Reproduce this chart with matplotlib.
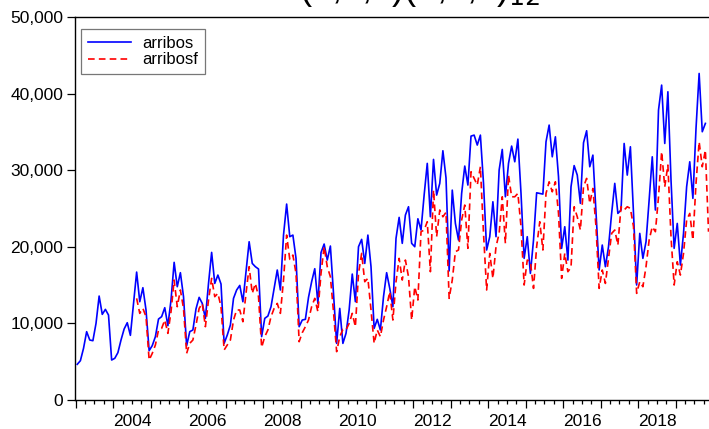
import numpy as np
import pandas as pd
import matplotlib
matplotlib.use("Agg")
import matplotlib.pyplot as plt
from matplotlib.ticker import FuncFormatter, MultipleLocator

plt.rcParams["font.family"] = ["Liberation Sans", "DejaVu Sans"]

# monthly series, 2003M01 onwards
arribos = [
    4660, 5130, 6740, 8920, 7830, 7740, 10000, 13570, 11180, 11830, 11090, 5220,
    5440, 6180, 7830, 9270, 10090, 8440, 12610, 16700, 12830, 14660, 11750, 6440,
    7100, 8270, 10570, 10880, 12050, 9700, 13050, 17970, 14790, 16620, 13490, 7090,
    8920, 9140, 11900, 13400, 12610, 10660, 15220, 19270, 15220, 16310, 15140, 7390,
    8480, 9790, 13270, 14360, 14960, 12830, 16750, 20660, 17830, 17400, 17100, 8270,
    10660, 10960, 12180, 14570, 16970, 14360, 21530, 25580, 21320, 21530, 18490, 9570,
    10440, 10530, 13400, 15440, 17140, 12610, 19250, 20360, 18270, 20100, 13900, 7390,
    11960, 7390, 8700, 11750, 16440, 12830, 20010, 20970, 17830, 21530, 17400, 9350,
    10530, 9140, 13490, 16620, 14570, 12180, 21100, 23840, 20450, 24140, 25230, 20450,
    20010, 23660, 22190, 26750, 30890, 23920, 31410, 26750, 28280, 32540, 29000, 16850,
    27400, 23050, 20880, 26970, 30540, 28060, 34450, 34580, 33280, 34580, 28280, 19580,
    21320, 25880, 21320, 30020, 32710, 26530, 30890, 33150, 31100, 34060, 26970, 18490,
    21320, 16530, 20880, 27050, 26970, 26880, 33710, 35890, 31750, 34360, 29140, 19800,
    22620, 18270, 27840, 30600, 29360, 25670, 33580, 35150, 30450, 31970, 24360, 16970,
    20230, 17400, 20010, 24360, 28280, 24360, 24800, 33490, 29360, 33060, 24360, 15010,
    21750, 18490, 20660, 26100, 31750, 24800, 37850, 41110, 33490, 40240, 28710, 19800,
    23050, 17620, 21750, 27840, 31100, 26320, 35450, 42630, 35020, 36110,
]

# fitted series starts 2004M08
arribosf_start = "2004-08"
arribosf = [
    13270, 11310, 11960, 10880, 5220,
    6090, 7180, 9140, 9350, 10440, 8700, 11530, 15660, 12180, 14360, 11960, 6090,
    7400, 7830, 9800, 11960, 12610, 9570, 13050, 15880, 13490, 13920, 12180, 6530,
    7180, 7830, 10440, 11750, 11750, 10220, 13920, 17400, 13920, 15220, 13490, 6870,
    8270, 9140, 10880, 11960, 12610, 11310, 15660, 21530, 18360, 18920, 16530, 7610,
    8790, 9570, 10440, 12180, 13270, 11530, 16530, 20010, 17400, 16090, 11500, 6310,
    8270, 9220, 9140, 10000, 11310, 9570, 16530, 19140, 15440, 15880, 11750, 7390,
    9140, 8270, 10440, 12180, 14140, 10440, 15440, 18490, 15660, 18270, 16090, 10440,
    14790, 13050, 21970, 22190, 23270, 16750, 27400, 21320, 24800, 23920, 24500, 13270,
    15660, 19360, 19580, 23490, 25450, 19800, 29800, 28930, 28060, 30450, 21750, 14360,
    19140, 15880, 20010, 21750, 26530, 20450, 29360, 26530, 26530, 26970, 22620, 15010,
    18270, 18050, 14570, 20010, 23270, 19580, 26970, 28490, 27180, 28490, 24360, 15880,
    19140, 16750, 17300, 25230, 23920, 22190, 27840, 28930, 25670, 27620, 22620, 14570,
    16970, 15220, 18490, 21750, 22190, 20230, 25230, 24800, 25230, 25010, 22620, 13920,
    15440, 14790, 17400, 20880, 22620, 21970, 26530, 32410, 27840, 30670, 21320, 15010,
    18050, 16310, 19140, 23490, 24360, 20880, 28280, 33710, 30450, 32620, 21970,
]

yticks = [0, 10000, 20000, 30000, 40000, 50000]
year_labels = [2004, 2006, 2008, 2010, 2012, 2014, 2016, 2018]


def to_years(periods):
    # plot each month at its middle, as in EViews
    return periods.year + (periods.month - 0.5) / 12.0


p1 = pd.period_range("2003-01", periods=len(arribos), freq="M")
p2 = pd.period_range(arribosf_start, periods=len(arribosf), freq="M")
x1 = to_years(p1)
x2 = to_years(p2)

fig = plt.figure(figsize=(7.09, 4.29), dpi=100)
W, H = 709, 429
ax = fig.add_axes([75 / W, 29 / H, 1.0, 383 / H])

ax.plot(x1, arribos, color="#0000ff", lw=1.2, label="arribos")
ax.plot(x2, arribosf, color="#ff0000", lw=1.2, dashes=(4, 2.5), label="arribosf")

# x scale: 37.5 px per year, axis starts at 2003
left = 2003 - 0.7 / 37.5
ax.set_xlim(left, left + W / 37.5)
ax.set_ylim(0, 50000)

ax.set_yticks(yticks)
ax.yaxis.set_major_formatter(FuncFormatter(lambda v, p: f"{v:,.0f}"))
ax.tick_params(axis="y", direction="out", length=5.5, width=0.9, pad=3, labelsize=12.5)

ax.xaxis.set_major_locator(MultipleLocator(1))
ax.xaxis.set_minor_locator(MultipleLocator(0.25))
ax.tick_params(axis="x", which="major", direction="out", length=5.5, width=0.9, labelbottom=False)
ax.tick_params(axis="x", which="minor", direction="out", length=3, width=0.9)

for yr in year_labels:
    ax.annotate(str(yr), xy=(yr + 0.5, 0), xycoords=("data", "axes fraction"),
                xytext=(0, -10), textcoords="offset points",
                ha="center", va="top", fontsize=12.5)

for s in ["left", "bottom", "top"]:
    ax.spines[s].set_linewidth(1.0)
ax.spines["right"].set_visible(False)

leg = ax.legend(loc="upper left", bbox_to_anchor=(6 / W, 1 - 12 / 383),
                borderaxespad=0, fontsize=12, frameon=True, fancybox=False,
                handlelength=2.6, handletextpad=0.7, labelspacing=0.1,
                borderpad=0.4)
leg.get_frame().set_edgecolor("#555555")
leg.get_frame().set_linewidth(0.9)

# title sits mostly above the cropped picture, only its lower edge shows
fig.text(161 / W, 1 + 1 / H, "SARIMA(3,1,1)(0,1,1)$_{12}$", ha="left",
         va="baseline", fontsize=26)

fig.savefig("out.png", dpi=100)
